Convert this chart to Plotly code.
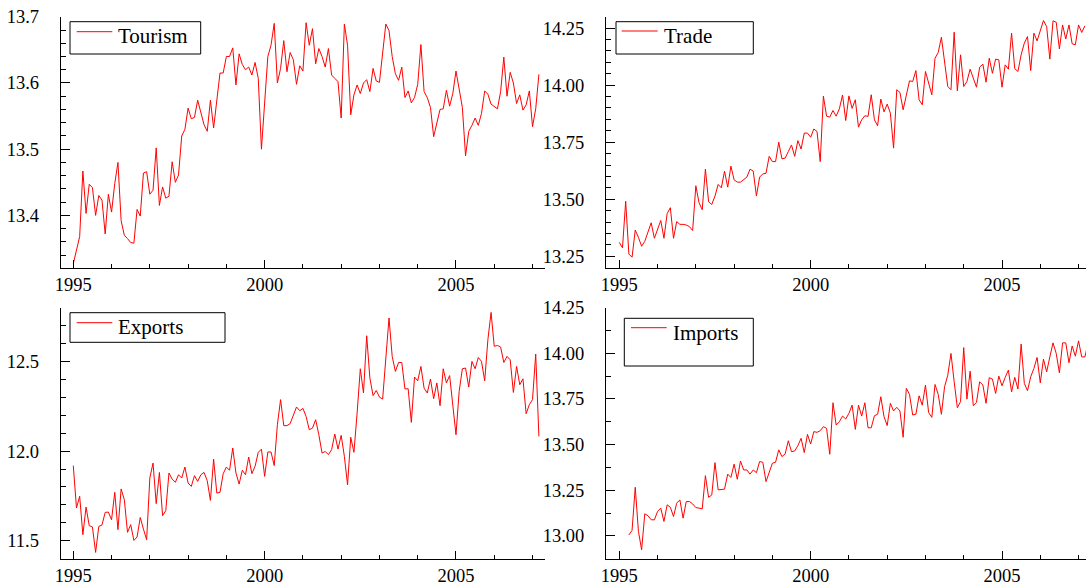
import plotly.graph_objects as go

# ---------------- data (monthly, 1995M1 .. 2007M3) ----------------
start_year = 1995
series_names = ["Tourism", "Trade", "Exports", "Imports"]

tourism = [13.327, 13.350, 13.368, 13.467, 13.403, 13.447, 13.442, 13.400, 13.430, 13.423,
           13.372, 13.432, 13.405, 13.448, 13.480, 13.392, 13.370, 13.365, 13.359, 13.358,
           13.409, 13.399, 13.464, 13.466, 13.432, 13.438, 13.502, 13.415, 13.443, 13.426,
           13.429, 13.481, 13.450, 13.461, 13.520, 13.530, 13.562, 13.546, 13.548, 13.574,
           13.557, 13.537, 13.527, 13.574, 13.532, 13.574, 13.615, 13.615, 13.640, 13.640,
           13.653, 13.597, 13.644, 13.628, 13.620, 13.624, 13.612, 13.631, 13.607, 13.500,
           13.570, 13.640, 13.657, 13.690, 13.600, 13.622, 13.664, 13.617, 13.646, 13.635,
           13.598, 13.626, 13.618, 13.691, 13.657, 13.682, 13.629, 13.652, 13.640, 13.624,
           13.652, 13.612, 13.607, 13.602, 13.547, 13.689, 13.657, 13.552, 13.582, 13.597,
           13.584, 13.600, 13.605, 13.587, 13.622, 13.603, 13.601, 13.650, 13.689, 13.679,
           13.640, 13.614, 13.604, 13.624, 13.578, 13.588, 13.570, 13.578, 13.598, 13.658,
           13.587, 13.578, 13.563, 13.519, 13.539, 13.560, 13.561, 13.589, 13.565, 13.584,
           13.618, 13.590, 13.563, 13.490, 13.527, 13.536, 13.547, 13.536, 13.554, 13.588,
           13.583, 13.568, 13.565, 13.561, 13.587, 13.639, 13.580, 13.616, 13.600, 13.569,
           13.582, 13.559, 13.567, 13.588, 13.534, 13.561, 13.613]

trade = [13.311, 13.287, 13.491, 13.260, 13.246, 13.365, 13.333, 13.294, 13.316, 13.358,
         13.397, 13.329, 13.373, 13.407, 13.329, 13.437, 13.463, 13.329, 13.402, 13.390,
         13.390, 13.387, 13.380, 13.363, 13.559, 13.485, 13.454, 13.632, 13.489, 13.477,
         13.514, 13.565, 13.550, 13.623, 13.553, 13.645, 13.585, 13.575, 13.575, 13.587,
         13.597, 13.632, 13.623, 13.514, 13.597, 13.611, 13.614, 13.688, 13.665, 13.665,
         13.750, 13.677, 13.680, 13.709, 13.738, 13.688, 13.757, 13.720, 13.790, 13.790,
         13.772, 13.808, 13.797, 13.665, 13.952, 13.864, 13.860, 13.889, 13.864, 13.896,
         13.957, 13.845, 13.953, 13.898, 13.936, 13.816, 13.848, 13.866, 13.863, 13.958,
         13.848, 13.822, 13.939, 13.883, 13.917, 13.877, 13.724, 13.980, 13.968, 13.892,
         13.955, 14.019, 14.016, 14.064, 13.936, 13.914, 14.060, 14.009, 13.958, 14.118,
         14.143, 14.210, 14.104, 13.994, 13.980, 14.232, 13.975, 14.133, 13.994, 14.016,
         14.070, 14.031, 13.991, 14.079, 14.092, 14.013, 14.118, 14.052, 14.114, 14.111,
         13.991, 14.089, 14.070, 14.228, 14.072, 14.060, 14.133, 14.184, 14.213, 14.064,
         14.228, 14.194, 14.240, 14.283, 14.257, 14.114, 14.282, 14.276, 14.159, 14.264,
         14.202, 14.264, 14.181, 14.177, 14.264, 14.231, 14.260]

exports = [11.919, 11.683, 11.748, 11.534, 11.688, 11.584, 11.577, 11.435, 11.580, 11.588,
           11.658, 11.660, 11.617, 11.770, 11.562, 11.789, 11.729, 11.547, 11.590, 11.502,
           11.521, 11.630, 11.565, 11.506, 11.850, 11.933, 11.707, 11.881, 11.640, 11.668,
           11.878, 11.844, 11.826, 11.868, 11.850, 11.911, 11.822, 11.803, 11.863, 11.831,
           11.868, 11.881, 11.835, 11.725, 11.955, 11.766, 11.770, 11.874, 11.911, 11.893,
           12.017, 11.878, 11.816, 11.893, 11.868, 11.967, 11.874, 11.915, 11.993, 12.011,
           11.859, 11.995, 11.995, 11.919, 12.147, 12.287, 12.142, 12.142, 12.153, 12.197,
           12.246, 12.225, 12.238, 12.193, 12.119, 12.128, 12.175, 12.091, 11.989, 11.998,
           11.980, 12.008, 12.095, 12.011, 12.088, 11.971, 11.811, 12.077, 11.993, 12.212,
           12.459, 12.324, 12.643, 12.407, 12.309, 12.338, 12.301, 12.290, 12.528, 12.742,
           12.528, 12.444, 12.494, 12.494, 12.346, 12.348, 12.160, 12.413, 12.392, 12.472,
           12.351, 12.324, 12.402, 12.292, 12.380, 12.253, 12.459, 12.380, 12.421, 12.240,
           12.091, 12.333, 12.459, 12.463, 12.357, 12.500, 12.459, 12.522, 12.500, 12.392,
           12.621, 12.773, 12.584, 12.589, 12.580, 12.494, 12.528, 12.509, 12.327, 12.472,
           12.370, 12.403, 12.208, 12.259, 12.287, 12.541, 12.082]

# Imports begins in 1995M4
imports_first_month = 3
imports = [13.005, 13.030, 13.266, 13.025, 12.924, 13.121, 13.110, 13.088, 13.088, 13.134,
           13.152, 13.079, 13.170, 13.157, 13.106, 13.179, 13.197, 13.097, 13.188, 13.188,
           13.175, 13.155, 13.152, 13.148, 13.330, 13.211, 13.224, 13.401, 13.252, 13.254,
           13.256, 13.338, 13.320, 13.393, 13.310, 13.410, 13.361, 13.361, 13.338, 13.361,
           13.346, 13.407, 13.403, 13.297, 13.346, 13.398, 13.403, 13.471, 13.434, 13.449,
           13.521, 13.461, 13.465, 13.494, 13.534, 13.456, 13.556, 13.503, 13.571, 13.567,
           13.576, 13.598, 13.589, 13.447, 13.729, 13.607, 13.625, 13.656, 13.640, 13.671,
           13.716, 13.583, 13.716, 13.656, 13.729, 13.592, 13.592, 13.658, 13.666, 13.762,
           13.653, 13.604, 13.726, 13.684, 13.704, 13.684, 13.540, 13.808, 13.775, 13.662,
           13.666, 13.767, 13.716, 13.826, 13.675, 13.649, 13.829, 13.775, 13.666, 13.817,
           13.880, 13.999, 13.844, 13.702, 13.735, 14.031, 13.749, 13.902, 13.713, 13.731,
           13.844, 13.826, 13.726, 13.866, 13.859, 13.780, 13.875, 13.822, 13.868, 13.908,
           13.789, 13.868, 13.804, 14.050, 13.835, 13.795, 13.871, 13.917, 13.977, 13.838,
           13.968, 13.898, 13.980, 14.057, 13.999, 13.893, 14.057, 14.057, 13.948, 14.040,
           13.984, 14.068, 13.980, 13.980, 14.060]

x_tick_labels = [1995, 2000, 2005]


def month_axis(n, first=0):
    return [start_year + (first + i) / 12 for i in range(n)]


# ---------------- layout geometry (pixels) ----------------
W, H = 1086, 585
FONT = "Liberation Serif, Times New Roman, serif"
RED = "#ff0000"


def px_x(v):
    return v / W


def px_y(v):
    return 1 - v / H


panels = [
    dict(name="Tourism", y=tourism, first=0,
         xd=(60.7, 545.0), xr=(1994.671, 2007.326), yd=(16.7, 267.7), yr=(13.321, 13.7001),
         dt=0.1, t0=13.5, mdt=0.02, fmt=".1f",
         box=(70, 21.7, 200.7, 54.0), sample=(76.7, 112.3, 31.7), text=(116.0, 36.2)),
    dict(name="Trade", y=trade, first=0,
         xd=(606.0, 1086.0), xr=(1994.6525, 2007.195), yd=(16.7, 267.7), yr=(13.2, 14.3),
         dt=0.25, t0=13.5, mdt=0.05, fmt=".2f",
         box=(616, 21.7, 753.3, 54.0), sample=(621.7, 657.7, 31.0), text=(662.0, 36.2)),
    dict(name="Exports", y=exports, first=0,
         xd=(60.7, 545.0), xr=(1994.671, 2007.326), yd=(307.6, 558.7), yr=(11.4, 12.8),
         dt=0.5, t0=12.0, mdt=0.1, fmt=".1f",
         box=(70, 312.7, 225.0, 342.3), sample=(76.7, 112.3, 322.7), text=(116.0, 327.2)),
    dict(name="Imports", y=imports, first=imports_first_month,
         xd=(606.0, 1086.0), xr=(1994.6525, 2007.195), yd=(307.6, 558.7), yr=(12.875, 14.2501),
         dt=0.25, t0=13.5, mdt=0.125, fmt=".2f",
         box=(624.3, 318.3, 753.3, 366.0), sample=(631.0, 666.7, 327.7), text=(670.5, 333.0)),
]

fig = go.Figure()
shapes = []
annotations = []
layout_axes = {}

for i, p in enumerate(panels, start=1):
    xa = "x" if i == 1 else f"x{i}"
    ya = "y" if i == 1 else f"y{i}"
    xk = "xaxis" if i == 1 else f"xaxis{i}"
    yk = "yaxis" if i == 1 else f"yaxis{i}"

    fig.add_trace(go.Scatter(
        x=month_axis(len(p["y"]), p["first"]), y=p["y"], mode="lines",
        line=dict(color=RED, width=1), name=p["name"], xaxis=xa, yaxis=ya,
        showlegend=False, hoverinfo="skip"))

    tickfont = dict(family=FONT, size=18.5, color="black")
    layout_axes[xk] = dict(
        showline=True, linecolor="black", linewidth=1, ticks="inside",
        tickcolor="black", tickwidth=1, showgrid=False, zeroline=False,
        automargin=False, tickfont=tickfont,
        domain=[px_x(p["xd"][0]), px_x(p["xd"][1])], range=list(p["xr"]),
        anchor=ya, tick0=start_year, dtick=5, tickformat="d", ticklen=8,
        ticklabelstandoff=0,
        minor=dict(tick0=start_year, dtick=1, ticks="inside", ticklen=4,
                   tickcolor="black", tickwidth=1, showgrid=False))
    layout_axes[yk] = dict(
        showline=True, linecolor="black", linewidth=1, ticks="inside",
        tickcolor="black", tickwidth=1, showgrid=False, zeroline=False,
        automargin=False, tickfont=tickfont,
        domain=[px_y(p["yd"][1]), px_y(p["yd"][0])], range=list(p["yr"]),
        anchor=xa, tick0=p["t0"], dtick=p["dt"], tickformat=p["fmt"], ticklen=9,
        ticklabelstandoff=17,
        minor=dict(tick0=p["t0"], dtick=p["mdt"], ticks="inside", ticklen=5,
                   tickcolor="black", tickwidth=1, showgrid=False))

    # legend box drawn per panel
    bx0, by0, bx1, by1 = p["box"]
    shapes.append(dict(type="rect", xref="paper", yref="paper",
                       x0=px_x(bx0), x1=px_x(bx1), y0=px_y(by1), y1=px_y(by0),
                       line=dict(color="black", width=1), fillcolor="white", layer="above"))
    sx0, sx1, sy = p["sample"]
    shapes.append(dict(type="line", xref="paper", yref="paper",
                       x0=px_x(sx0), x1=px_x(sx1), y0=px_y(sy), y1=px_y(sy),
                       line=dict(color=RED, width=1), layer="above"))
    tx, ty = p["text"]
    annotations.append(dict(text=p["name"], xref="paper", yref="paper",
                            x=px_x(tx), y=px_y(ty), xanchor="left", yanchor="middle",
                            showarrow=False, font=dict(family=FONT, size=21, color="black")))

fig.update_layout(
    width=W, height=H, autosize=False,
    margin=dict(l=0, r=0, t=0, b=0, pad=0, autoexpand=False),
    font=dict(family=FONT, color="black"),
    paper_bgcolor="white", plot_bgcolor="white",
    showlegend=False, shapes=shapes, annotations=annotations,
    **layout_axes)

fig.write_html("out.html")
